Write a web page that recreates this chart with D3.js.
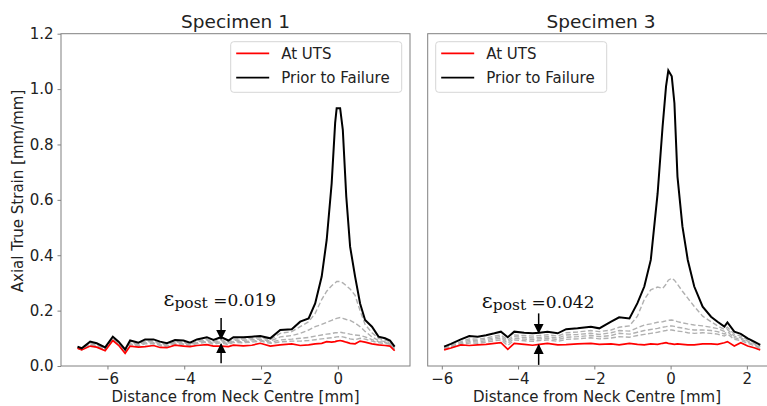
<!DOCTYPE html>
<html>
<head>
<meta charset="utf-8">
<script src="https://cdn.jsdelivr.net/npm/d3@7"></script>
<style>
  body { margin: 0; background: #fff; }
  svg { display: block; font-family: "DejaVu Sans", sans-serif; }
  .axis path.domain { display: none; }
  .axis line { stroke: #808080; }
  .axis text { font-size: 15px; fill: #222; font-family: "DejaVu Sans", sans-serif; }
</style>
</head>
<body>
<svg width="767" height="406"></svg>
<script>
// DATA

var yTicks = [0, 0.2, 0.4, 0.6, 0.8, 1.0, 1.2];
var xTicksLeft = [-6, -4, -2, 0];
var xTicksRight = [-6, -4, -2, 0, 2];

// Specimen 1
var xsLeft =    [-6.78,-6.67,-6.45,-6.28,-6.06,-5.86,-5.71,-5.54,-5.41,-5.19,-5.02,-4.80,-4.63,-4.45,-4.24,-4.02,-3.85,-3.67,-3.41,-3.24,-3.04,-2.85,-2.72,-2.46,-2.24,-2.02,-1.76,-1.50,-1.20,-0.98,-0.76,-0.59,-0.42,-0.29,-0.16,-0.07,-0.03, 0.06, 0.13, 0.22, 0.32, 0.45, 0.58, 0.71, 0.89, 1.06, 1.23, 1.36, 1.48];
var blackLeft = [0.070,0.064,0.088,0.082,0.067,0.106,0.088,0.060,0.092,0.084,0.096,0.096,0.088,0.082,0.094,0.092,0.084,0.096,0.104,0.094,0.104,0.092,0.104,0.104,0.106,0.108,0.100,0.130,0.133,0.160,0.172,0.226,0.323,0.455,0.660,0.877,0.931,0.931,0.853,0.612,0.431,0.323,0.226,0.166,0.142,0.106,0.100,0.092,0.070];
var redLeft =   [0.064,0.058,0.072,0.068,0.055,0.092,0.075,0.046,0.072,0.068,0.070,0.074,0.067,0.066,0.075,0.072,0.070,0.074,0.077,0.072,0.072,0.070,0.075,0.073,0.075,0.082,0.072,0.076,0.080,0.074,0.076,0.080,0.082,0.088,0.086,0.088,0.090,0.092,0.090,0.086,0.082,0.080,0.090,0.086,0.080,0.076,0.074,0.072,0.055];
var grayLeftA = [0.066,0.061,0.083,0.077,0.062,0.100,0.083,0.055,0.086,0.079,0.090,0.090,0.083,0.077,0.088,0.086,0.079,0.090,0.097,0.088,0.096,0.086,0.097,0.098,0.100,0.102,0.095,0.118,0.124,0.142,0.160,0.190,0.240,0.270,0.290,0.300,0.305,0.305,0.300,0.290,0.278,0.255,0.200,0.150,0.120,0.100,0.094,0.088,0.066];
var grayLeftB = [0.066,0.060,0.080,0.075,0.060,0.098,0.081,0.053,0.083,0.077,0.087,0.087,0.080,0.075,0.086,0.084,0.077,0.087,0.093,0.085,0.092,0.083,0.093,0.093,0.095,0.097,0.090,0.105,0.110,0.118,0.130,0.142,0.150,0.158,0.165,0.170,0.172,0.175,0.172,0.168,0.165,0.155,0.142,0.125,0.105,0.092,0.088,0.082,0.063];
var grayLeftC = [0.065,0.059,0.078,0.073,0.059,0.096,0.079,0.052,0.080,0.074,0.083,0.084,0.077,0.072,0.083,0.081,0.075,0.084,0.090,0.082,0.088,0.080,0.089,0.088,0.090,0.093,0.086,0.094,0.097,0.100,0.103,0.108,0.112,0.115,0.117,0.120,0.120,0.122,0.120,0.118,0.115,0.112,0.110,0.105,0.095,0.088,0.085,0.080,0.061];
var grayLeftD = [0.065,0.059,0.076,0.071,0.058,0.095,0.078,0.050,0.078,0.072,0.080,0.081,0.074,0.070,0.080,0.078,0.073,0.081,0.086,0.079,0.084,0.077,0.085,0.084,0.086,0.090,0.082,0.087,0.090,0.090,0.092,0.095,0.098,0.100,0.102,0.104,0.105,0.106,0.105,0.102,0.098,0.095,0.100,0.097,0.090,0.084,0.081,0.078,0.059];

// Specimen 3
var xsRight =    [-5.94,-5.76,-5.50,-5.28,-5.06,-4.84,-4.62,-4.45,-4.27,-4.10,-3.84,-3.62,-3.44,-3.23,-2.96,-2.74,-2.44,-2.09,-1.87,-1.56,-1.35,-1.08,-0.87,-0.69,-0.52,-0.34,-0.21,-0.12,-0.06, 0.03, 0.10, 0.18, 0.31, 0.45, 0.62, 0.84, 1.06, 1.23, 1.41, 1.49, 1.67, 1.84, 2.02, 2.19, 2.35];
var blackRight = [0.070,0.080,0.096,0.108,0.106,0.111,0.118,0.124,0.104,0.124,0.120,0.118,0.120,0.124,0.118,0.133,0.136,0.142,0.136,0.160,0.176,0.172,0.227,0.287,0.383,0.624,0.865,1.010,1.067,1.046,0.949,0.684,0.504,0.383,0.287,0.214,0.178,0.160,0.142,0.157,0.124,0.116,0.100,0.088,0.076];
var redRight =   [0.058,0.065,0.076,0.074,0.076,0.078,0.082,0.084,0.060,0.082,0.078,0.075,0.078,0.082,0.076,0.077,0.080,0.082,0.078,0.080,0.076,0.082,0.078,0.076,0.080,0.078,0.082,0.084,0.082,0.080,0.078,0.080,0.078,0.076,0.076,0.080,0.080,0.078,0.084,0.088,0.072,0.084,0.072,0.066,0.058];
var grayRightA = [0.066,0.074,0.088,0.098,0.097,0.101,0.108,0.112,0.094,0.112,0.110,0.108,0.110,0.113,0.108,0.120,0.123,0.128,0.124,0.130,0.140,0.145,0.180,0.240,0.275,0.285,0.280,0.295,0.310,0.317,0.310,0.295,0.270,0.245,0.215,0.180,0.160,0.145,0.132,0.140,0.115,0.108,0.094,0.084,0.072];
var grayRightB = [0.064,0.071,0.084,0.093,0.092,0.096,0.102,0.106,0.088,0.106,0.103,0.101,0.103,0.106,0.101,0.112,0.114,0.118,0.114,0.120,0.128,0.126,0.138,0.148,0.152,0.158,0.160,0.163,0.165,0.166,0.164,0.160,0.156,0.152,0.148,0.145,0.140,0.135,0.125,0.132,0.108,0.102,0.090,0.080,0.069];
var grayRightC = [0.062,0.069,0.080,0.088,0.087,0.091,0.097,0.100,0.082,0.100,0.097,0.095,0.098,0.100,0.095,0.104,0.106,0.110,0.106,0.110,0.118,0.115,0.122,0.128,0.132,0.136,0.140,0.142,0.144,0.145,0.143,0.140,0.137,0.133,0.130,0.130,0.128,0.124,0.116,0.124,0.102,0.097,0.086,0.077,0.066];
var grayRightD = [0.060,0.067,0.077,0.083,0.082,0.086,0.091,0.094,0.074,0.094,0.091,0.089,0.092,0.094,0.089,0.096,0.098,0.102,0.098,0.101,0.106,0.104,0.110,0.114,0.118,0.122,0.126,0.128,0.130,0.130,0.128,0.126,0.124,0.120,0.118,0.120,0.118,0.115,0.108,0.116,0.096,0.092,0.082,0.073,0.063];

var legendLabels = ["At UTS", "Prior to Failure"];
var legendColors = ["#ff0000", "#000000"];


// SETUP

var svg = d3.select("svg");
svg.append("rect").attr("width", 767).attr("height", 406).attr("fill", "#fff");

var plotTop = 33.7, plotBottom = 366;
var y = d3.scaleLinear().domain([0, 1.2]).range([plotBottom, plotTop]);

var panels = [
    { title: "Specimen 1", x0: 61, x1: 410, domain: [-7.21, 1.88], ticks: xTicksLeft,
      xs: xsLeft, black: blackLeft, red: redLeft, grays: [grayLeftA, grayLeftB, grayLeftC, grayLeftD],
      yLabels: true, legendX: 230.7, titleX: 235.5, labelX: 235.5,
      eps: "0.019", epsX: -4.54, epsY: 0.217, arrowX: -3.04,
      arrowTop: [0.173, 0.098], arrowBot: [0.010, 0.079] },
    { title: "Specimen 3", x0: 427.7, x1: 777, domain: [-6.37, 2.79], ticks: xTicksRight,
      xs: xsRight, black: blackRight, red: redRight, grays: [grayRightA, grayRightB, grayRightC, grayRightD],
      yLabels: false, legendX: 435.7, titleX: 601, labelX: 597,
      eps: "0.042", epsX: -4.95, epsY: 0.210, arrowX: -3.46,
      arrowTop: [0.19, 0.12], arrowBot: [0.004, 0.076] }
];

var defs = svg.append("defs");
defs.append("marker")
    .attr("id", "head")
    .attr("viewBox", "0 0 10 10")
    .attr("refX", 9).attr("refY", 5)
    .attr("markerWidth", 10).attr("markerHeight", 10.5)
    .attr("markerUnits", "userSpaceOnUse")
    .attr("orient", "auto")
  .append("path")
    .attr("d", "M0,0 L10,5 L0,10 Z")
    .attr("fill", "#000");


// DRAWING

panels.forEach(function (p) {
    var x = d3.scaleLinear().domain(p.domain).range([p.x0, p.x1]);
    var g = svg.append("g");

    var line = d3.line()
        .x(function (d) { return x(d[0]); })
        .y(function (d) { return y(d[1]); });
    function pts(ys) { return p.xs.map(function (v, i) { return [v, ys[i]]; }); }

    // x axis
    g.append("g")
        .attr("class", "axis")
        .attr("transform", "translate(0," + plotBottom + ")")
        .call(d3.axisBottom(x).tickValues(p.ticks).tickSize(3.5).tickPadding(4).tickFormat(d3.format("d")));

    // y axis
    if (p.yLabels) {
        g.append("g")
            .attr("class", "axis")
            .attr("transform", "translate(" + p.x0 + ",0)")
            .call(d3.axisLeft(y).tickValues(yTicks).tickSize(3.5).tickPadding(4).tickFormat(d3.format(".1f")));
    }

    // gray intermediate lines
    p.grays.forEach(function (ys) {
        g.append("path")
            .attr("d", line(pts(ys)))
            .attr("fill", "none")
            .attr("stroke", "#b0b0b0")
            .attr("stroke-width", 1.4)
            .attr("stroke-dasharray", "5,2.5");
    });

    g.append("path")
        .attr("d", line(pts(p.red)))
        .attr("fill", "none")
        .attr("stroke", "#ff0000")
        .attr("stroke-width", 1.7);

    g.append("path")
        .attr("d", line(pts(p.black)))
        .attr("fill", "none")
        .attr("stroke", "#000")
        .attr("stroke-width", 2);

    // frame
    g.append("rect")
        .attr("x", p.x0).attr("y", plotTop)
        .attr("width", p.x1 - p.x0).attr("height", plotBottom - plotTop)
        .attr("fill", "none")
        .attr("stroke", "#808080")
        .attr("stroke-width", 1);

    // title and x label
    g.append("text")
        .attr("x", p.titleX).attr("y", 28)
        .attr("text-anchor", "middle")
        .attr("font-size", 18.5)
        .attr("fill", "#222")
        .text(p.title);

    g.append("text")
        .attr("x", p.labelX)
        .attr("y", 402)
        .attr("text-anchor", "middle")
        .attr("font-size", 15)
        .attr("fill", "#222")
        .text("Distance from Neck Centre [mm]");

    // legend
    var lg = g.append("g").attr("transform", "translate(" + p.legendX + ",41.7)");
    lg.append("rect")
        .attr("width", 171).attr("height", 50.6)
        .attr("rx", 3)
        .attr("fill", "#fff").attr("fill-opacity", 0.8)
        .attr("stroke", "#d6d6d6");
    legendLabels.forEach(function (lab, i) {
        var ly = 11.6 + i * 24.4;
        lg.append("line")
            .attr("x1", 5.5).attr("x2", 38.5)
            .attr("y1", ly).attr("y2", ly)
            .attr("stroke", legendColors[i])
            .attr("stroke-width", 1.7);
        lg.append("text")
            .attr("x", 50.5).attr("y", ly + 5.5)
            .attr("font-size", 15)
            .attr("fill", "#222")
            .text(lab);
    });

    // annotation
    var t = g.append("text")
        .attr("x", x(p.epsX)).attr("y", y(p.epsY))
        .attr("font-family", "DejaVu Serif, serif")
        .attr("font-size", 17)
        .attr("fill", "#111");
    t.append("tspan").attr("font-size", 21).text("ε");
    t.append("tspan").attr("font-size", 15.5).attr("dy", 2).text("post");
    t.append("tspan").attr("dy", -2).text(" =" + p.eps);

    [p.arrowTop, p.arrowBot].forEach(function (a) {
        g.append("line")
            .attr("x1", x(p.arrowX)).attr("x2", x(p.arrowX))
            .attr("y1", y(a[0])).attr("y2", y(a[1]))
            .attr("stroke", "#000")
            .attr("stroke-width", 1.5)
            .attr("marker-end", "url(#head)");
    });
});

// shared y label
svg.append("text")
    .attr("transform", "translate(23,191) rotate(-90)")
    .attr("text-anchor", "middle")
    .attr("font-size", 15)
    .attr("fill", "#222")
    .text("Axial True Strain [mm/mm]");
</script>
</body>
</html>
